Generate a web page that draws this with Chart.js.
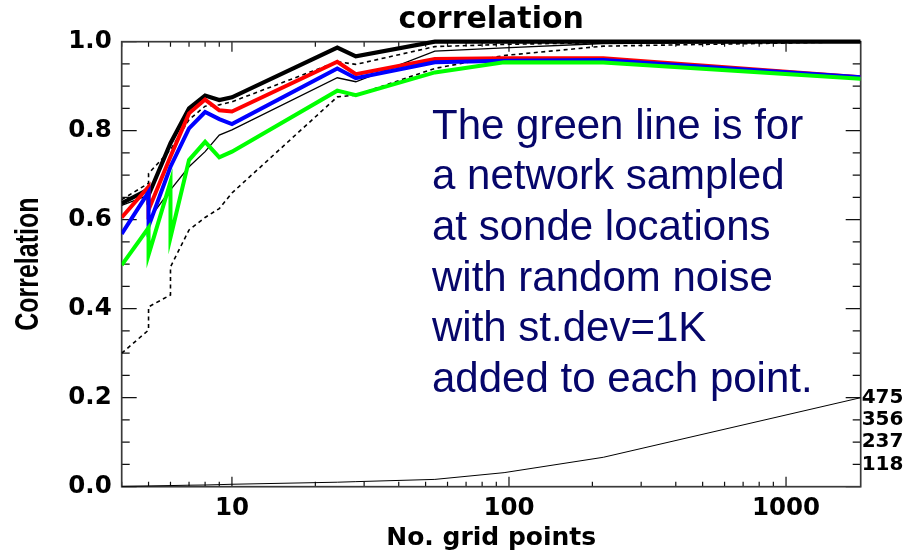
<!DOCTYPE html>
<html>
<head>
<meta charset="utf-8">
<title>correlation</title>
<script src="https://cdn.jsdelivr.net/npm/chart.js@4.4.1/dist/chart.umd.min.js"></script>
<style>
  html, body { margin: 0; padding: 0; background: #ffffff; }
  #wrap { width: 904px; height: 556px; }
</style>
</head>
<body>
<div id="wrap"><canvas id="chart" width="904" height="556"></canvas></div>
<script>
// Number of grid points (duplicate entries are separate configurations of the same size)
const gridPoints = [4, 5, 5, 6, 6, 7, 8, 9, 10, 24, 28, 54, 96, 219, 1860];

// Correlation curves
const corrBlackThick = [0.637, 0.668, 0.655, 0.772, 0.772, 0.850, 0.879, 0.869, 0.875, 0.987, 0.967, 1.000, 1.000, 1.000, 1.000];
const corrUpperDash  = [0.645, 0.682, 0.704, 0.757, 0.757, 0.825, 0.855, 0.858, 0.865, 0.955, 0.949, 0.989, 0.994, 0.998, 1.000];
const corrThin       = [0.632, 0.655, 0.600, 0.667, 0.667, 0.719, 0.753, 0.790, 0.802, 0.919, 0.910, 0.979, 0.986, 0.996, 1.000];
const corrLowerDash  = [0.300, 0.352, 0.404, 0.431, 0.494, 0.577, 0.605, 0.625, 0.660, 0.876, 0.880, 0.940, 0.969, 0.990, 1.000];
const corrRed        = [0.605, 0.674, 0.622, 0.742, 0.742, 0.839, 0.870, 0.846, 0.843, 0.955, 0.927, 0.961, 0.963, 0.963, 0.920];
const corrBlue       = [0.568, 0.662, 0.585, 0.719, 0.719, 0.805, 0.842, 0.826, 0.815, 0.940, 0.918, 0.954, 0.957, 0.959, 0.920];
const corrGreen      = [0.498, 0.582, 0.521, 0.685, 0.560, 0.734, 0.775, 0.740, 0.753, 0.890, 0.880, 0.931, 0.954, 0.953, 0.917];

// Count curve read on the right-hand axis
const countValues = [2, 4, 4, 6, 6, 8, 9, 11, 13, 24, 27, 39, 75, 157, 475];

// Tick labels
const xTickValues = [10, 100, 1000];
const yTickValues = [0, 0.2, 0.4, 0.6, 0.8, 1.0];
const countTickValues = [118, 237, 356, 475];
const countAxisMax = 2375;

const chartTitle = 'correlation';
const yTitle = 'Correlation';

// Annotation lines
const noteLines = [
  'The green line is for',
  'a network sampled',
  'at sonde locations',
  'with random noise',
  'with st.dev=1K',
  'added to each point.'
];

const FONT = "'DejaVu Sans', 'Liberation Sans', sans-serif";

function pts(ys) { return gridPoints.map((g, i) => ({ x: g, y: ys[i] })); }

function lineSet(label, ys, color, width, dash, axis) {
  return {
    label: label,
    data: axis === 'y2' ? countValues.map((v, i) => ({ x: gridPoints[i], y: v })) : pts(ys),
    borderColor: color,
    borderWidth: width,
    borderDash: dash || [],
    pointRadius: 0,
    tension: 0,
    fill: false,
    borderJoinStyle: 'miter',
    borderCapStyle: 'butt',
    yAxisID: axis || 'y',
    clip: { left: 0, top: 4, right: 0, bottom: 2 }
  };
}

// Box, inward tick marks, titles and the note
const frameTicks = {
  id: 'frameTicks',
  beforeDatasetsDraw(chart) {
    const { ctx, chartArea: a, scales } = chart;
    const xs = scales.x, ys = scales.y;
    ctx.save();
    ctx.strokeStyle = '#111';
    ctx.lineWidth = 1.2;
    ctx.beginPath();
    for (let d = 1; d <= 1000; d *= 10) {
      for (let m = 1; m <= 9; m++) {
        const v = m * d;
        if (v < xs.min || v > xs.max) continue;
        const px = xs.getPixelForValue(v);
        const len = m === 1 ? 10 : 5;
        ctx.moveTo(px, a.bottom); ctx.lineTo(px, a.bottom - len);
        ctx.moveTo(px, a.top); ctx.lineTo(px, a.top + len);
      }
    }
    for (let i = 0; i <= 20; i++) {
      const v = i * 0.05;
      const py = ys.getPixelForValue(v);
      const len = i % 4 === 0 ? 15 : 8;
      ctx.moveTo(a.left, py); ctx.lineTo(a.left + len, py);
      ctx.moveTo(a.right, py); ctx.lineTo(a.right - len, py);
    }
    ctx.stroke();
    ctx.strokeStyle = '#3a3a3a';
    ctx.lineWidth = 1.7;
    ctx.strokeRect(a.left, a.top, a.right - a.left, a.bottom - a.top);
    ctx.restore();
  },
  afterDraw(chart) {
    const { ctx, chartArea: a } = chart;
    ctx.save();
    ctx.fillStyle = '#000';
    ctx.font = "bold 30px " + FONT;
    ctx.textAlign = 'center';
    ctx.textBaseline = 'middle';
    ctx.fillText(chartTitle, (a.left + a.right) / 2, 20);

    // vertical axis title, glyphs drawn a little wider across the axis
    ctx.save();
    ctx.translate(29, (a.top + a.bottom) / 2);
    ctx.rotate(-Math.PI / 2);
    ctx.scale(1, 1.3);
    ctx.font = "bold 25px 'Liberation Sans', Arial, sans-serif";
    ctx.textAlign = 'center';
    ctx.textBaseline = 'middle';
    ctx.fillText(yTitle, 0, 0);
    ctx.restore();

    ctx.fillStyle = '#06066a';
    ctx.font = "42px 'Liberation Sans', Arial, sans-serif";
    ctx.textAlign = 'left';
    ctx.textBaseline = 'alphabetic';
    noteLines.forEach((t, i) => ctx.fillText(t, 432, 138.5 + i * 50.7));
    ctx.restore();
  }
};

new Chart(document.getElementById('chart'), {
  type: 'line',
  data: {
    datasets: [
      lineSet('green', corrGreen, '#00ff00', 4),
      lineSet('blue', corrBlue, '#0000ff', 4),
      lineSet('red', corrRed, '#ff0000', 4),
      lineSet('lower', corrLowerDash, '#000000', 1.6, [4, 3.5]),
      lineSet('thin', corrThin, '#000000', 1.3),
      lineSet('upper', corrUpperDash, '#000000', 1.6, [4, 3.5]),
      lineSet('black', corrBlackThick, '#000000', 4.2),
      lineSet('count', null, '#000000', 1, null, 'y2')
    ]
  },
  options: {
    responsive: false,
    animation: false,
    devicePixelRatio: 1,
    layout: { padding: { top: 41.7, left: 0, right: 0, bottom: 0 } },
    plugins: {
      legend: { display: false },
      tooltip: { enabled: false },
      title: { display: false }
    },
    scales: {
      x: {
        type: 'logarithmic',
        min: 4,
        max: 1860,
        grid: { display: false, drawTicks: false },
        border: { display: false },
        afterBuildTicks: s => { s.ticks = xTickValues.map(v => ({ value: v, major: true })); },
        afterFit: s => { s.height = 69.3; },
        ticks: {
          autoSkip: false, maxRotation: 0, minRotation: 0,
          padding: 7, color: '#000',
          font: { family: FONT, size: 24.5, weight: 'bold' },
          callback: v => String(v)
        },
        title: {
          display: true,
          text: 'No. grid points',
          color: '#000',
          font: { family: FONT, size: 25, weight: 'bold', lineHeight: 1.2 },
          padding: { top: 0, bottom: 3 }
        }
      },
      y: {
        position: 'left',
        min: 0,
        max: 1.0,
        grid: { display: false, drawTicks: false },
        border: { display: false },
        afterBuildTicks: s => { s.ticks = yTickValues.map(v => ({ value: v })); },
        afterFit: s => { s.width = 121.7; },
        ticks: {
          padding: 10, color: '#000',
          font: { family: FONT, size: 24.5, weight: 'bold' },
          callback: v => Number(v).toFixed(1)
        },
        title: { display: false }
      },
      y2: {
        position: 'right',
        min: 0,
        max: countAxisMax,
        grid: { display: false, drawTicks: false },
        border: { display: false },
        afterBuildTicks: s => { s.ticks = countTickValues.map(v => ({ value: v })); },
        afterFit: s => { s.width = 43.3; },
        ticks: {
          padding: 1, color: '#000',
          font: { family: FONT, size: 20, weight: 'bold' },
          callback: v => String(Math.floor(v))
        }
      }
    }
  },
  plugins: [frameTicks]
});
</script>
</body>
</html>
